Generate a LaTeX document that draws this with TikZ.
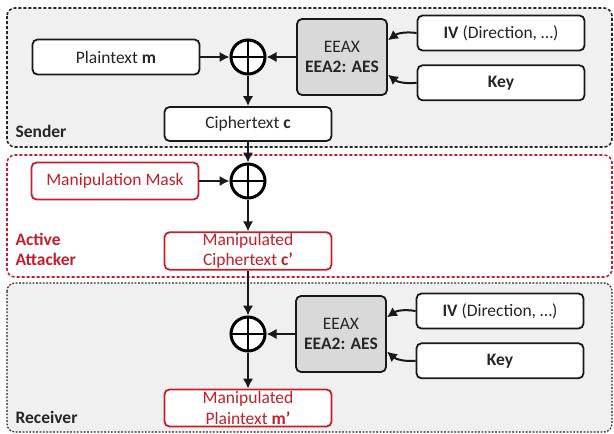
\documentclass[tikz,border=0pt]{standalone}
\usepackage{fontspec}
\setmainfont{Carlito}
\usetikzlibrary{arrows.meta, positioning}
\definecolor{attred}{RGB}{192,32,44}
\definecolor{zonegray}{RGB}{240,240,240}
\definecolor{ciphgray}{RGB}{217,217,217}

\begin{document}
\begin{tikzpicture}[x=1pt, y=-1pt, >={Latex[length=10pt, width=10.5pt]},
            zone/.style={draw=black!85, fill=zonegray, rounded corners=8pt, line width=1.6pt, dash pattern=on 3pt off 2pt},
            blk/.style={rectangle, draw=black!90, fill=white, rounded corners=5pt, line width=1.8pt, minimum width=167pt, minimum height=35pt, inner sep=1pt, align=center, font=\fontsize{17.5}{20.5}\selectfont, text=black!85},
            atk/.style={draw=attred, text=attred, minimum height=37pt},
            cipher/.style={rectangle, draw=black!90, fill=ciphgray, rounded corners=5pt, line width=1.8pt, minimum width=90pt, minimum height=76pt, align=center, font=\fontsize{17.5}{20.5}\selectfont, text=black!85},
            xor/.style={circle, draw, fill=white, line width=3pt, minimum size=34pt, inner sep=0pt,
              path picture={\draw[line width=2.2pt] (path picture bounding box.north) -- (path picture bounding box.south)
                (path picture bounding box.west) -- (path picture bounding box.east);}},
            lbl/.style={anchor=base west, align=left, font=\fontsize{17.5}{19.5}\selectfont\bfseries, text=black!85},
            edge/.style={line width=2pt, black!90}]

            \useasboundingbox (0,0) rectangle (614,434);

            % Zones
            \draw[zone] (7,8) rectangle (612,147);
            \draw[zone, draw=attred, fill=white] (7,155) rectangle (612,277);
            \draw[zone, dash pattern=on 1.8pt off 1.6pt, line width=1.2pt] (7,283) rectangle (612,432);
            \node[lbl] (sendlbl) at (12,137) {Sender};
            \node[lbl, text=attred] (atklbl) at (12,265) {Active\\Attacker};
            \node[lbl] (recvlbl) at (12,423) {Receiver};

            % Sender
            \node[blk] (pm) at (116,57) {Plaintext \textbf{m}};
            \node[xor] (x1) at (248,57) {};
            \node[blk, minimum height=34pt] (ct) at (248,124) {Ciphertext \textbf{c}};
            \node[cipher] (enc1) at (342,57) {EEAX\\\textbf{EEA2: AES}};
            \node[blk] (iv1) at (501,33) {\textbf{IV} (Direction, …)};
            \node[blk, below=13pt of iv1] (key1) {\textbf{Key}};

            % Attacker
            \node[blk, atk] (mask) at (115,181) {Manipulation Mask};
            \node[xor] (x2) at (248,181) {};
            \node[blk, atk] (mc) at (248,251) {Manipulated\\Ciphertext \textbf{c’}};

            % Receiver
            \node[xor] (x3) at (248,334) {};
            \node[cipher] (enc2) at (341,334) {EEAX\\\textbf{EEA2: AES}};
            \node[blk] (iv2) at (500,311) {\textbf{IV} (Direction, …)};
            \node[blk, below=13pt of iv2] (key2) {\textbf{Key}};
            \node[blk, atk] (mp) at (248,408) {Manipulated\\Plaintext \textbf{m’}};

            % Edges
            \draw[->, edge] (pm) -- (x1);
            \draw[->, edge] (enc1) -- (x1);
            \draw[->, edge] (x1) -- (ct);
            \draw[->, edge] (iv1.west) to[bend right=22] (enc1.20);
            \draw[->, edge] (key1.west) to[bend left=22] (enc1.-21);

            \draw[->, edge] (ct) -- (x2);
            \draw[->, edge] (mask) -- (x2);
            \draw[->, edge] (x2) -- (mc);

            \draw[->, edge] (mc) -- (x3);
            \draw[->, edge] (enc2) -- (x3);
            \draw[->, edge] (iv2.west) to[bend right=22] (enc2.20);
            \draw[->, edge] (key2.west) to[bend left=22] (enc2.-21);
            \draw[->, edge] (x3) -- (mp);
\end{tikzpicture}
\end{document}
